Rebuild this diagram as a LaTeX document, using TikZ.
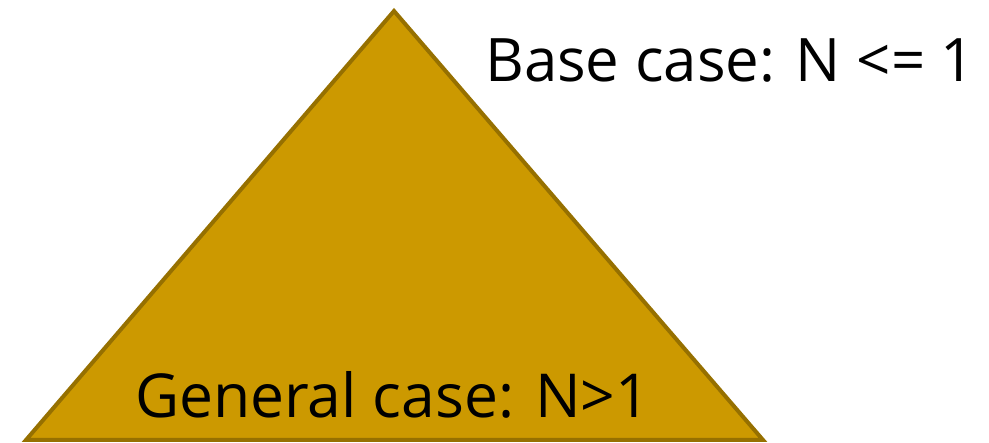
\documentclass[tikz,border=0pt]{standalone}
\usepackage{fontspec}
\setmainfont{Open Sans}
\definecolor{tri}{HTML}{CC9900}
\definecolor{triedge}{HTML}{967000}
\begin{document}
\begin{tikzpicture}[x=1pt,y=-1pt,
  lbl/.style={inner sep=0pt, anchor=base west, font=\fontsize{60}{60}\selectfont}]
\useasboundingbox (0,0) rectangle (989,443);
\draw[fill=tri, draw=triedge, line width=4pt, line join=miter] (26,440) -- (394,11) -- (763,440) -- cycle;
\node[lbl] (base) at (485,82) {\resizebox{490pt}{!}{Base case: N <= 1}};
\node[lbl] (gen) at (135,418) {\resizebox{515pt}{!}{General case: N>1}};
\end{tikzpicture}
\end{document}
